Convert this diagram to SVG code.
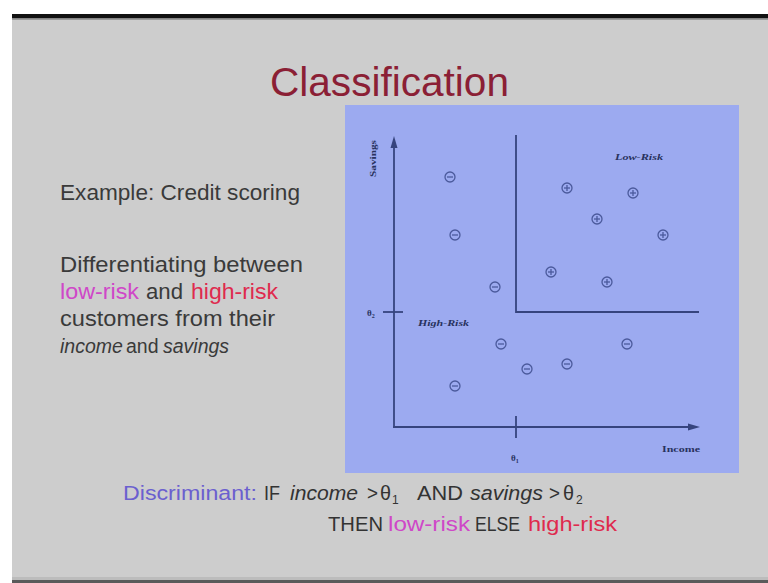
<svg xmlns="http://www.w3.org/2000/svg" width="768" height="583" viewBox="0 0 768 583">
<style>
.sans{font-family:"Liberation Sans","Open Sans",sans-serif}
.serif{font-family:"Liberation Serif","DejaVu Serif",serif}
.body{fill:#3a3a3a;font-size:21.5px}
.bot{fill:#333333;font-size:20px}
.low{fill:#cf47c8}
.high{fill:#df2a4e}
.it{font-style:italic}
.ax{stroke:#36447e;stroke-width:1.8;fill:none}
.pt{stroke:#4b5a9c;stroke-width:1.3;fill:none}
.lab{fill:#28325e;font-size:9px;font-weight:bold}
</style>
<defs>
<g id="minus"><circle r="5" class="pt"/><line x1="-3" y1="0" x2="3" y2="0" class="pt"/></g>
<g id="plus"><circle r="5" class="pt"/><line x1="-3" y1="0" x2="3" y2="0" class="pt"/><line x1="0" y1="-3" x2="0" y2="3" class="pt"/></g>
</defs>
<rect x="0" y="0" width="768" height="583" fill="#ffffff"/>
<g id="slide">
<rect x="12" y="18" width="756" height="562" fill="#cdcdcd"/>
<rect x="12" y="14" width="756" height="4.5" fill="#111111"/>
<rect x="12" y="18.5" width="756" height="1.5" fill="#9a9a9a"/>
<rect x="12" y="577" width="756" height="3" fill="#bcbcbc"/>
<rect x="12" y="580" width="756" height="3" fill="#5a5a5a"/>
</g>
<g id="title">
<text x="270" y="96" class="sans" font-size="40" fill="#8b1f35" textLength="239" lengthAdjust="spacingAndGlyphs">Classification</text>
</g>
<g id="left-text" class="sans body">
<text x="60" y="200" textLength="240" lengthAdjust="spacingAndGlyphs">Example: Credit scoring</text>
<text x="60" y="272" textLength="243" lengthAdjust="spacingAndGlyphs">Differentiating between</text>
<text x="60" y="299" class="low" textLength="79" lengthAdjust="spacingAndGlyphs">low-risk</text>
<text x="146" y="299" textLength="37" lengthAdjust="spacingAndGlyphs">and</text>
<text x="191" y="299" class="high" textLength="87" lengthAdjust="spacingAndGlyphs">high-risk</text>
<text x="60" y="326" textLength="215" lengthAdjust="spacingAndGlyphs">customers from their</text>
<text x="60" y="353" class="it" font-size="19.5">income</text>
<text x="126" y="353" font-size="19.5">and</text>
<text x="163" y="353" class="it" font-size="19.5">savings</text>
</g>
<g id="plot">
<rect x="345" y="105" width="394" height="368" fill="#9caaf0"/>
<g id="connectors">
<line x1="394" y1="427" x2="394" y2="146" class="ax"/>
<polygon points="394,136 390.5,148 397.5,148" fill="#36447e"/>
<line x1="393" y1="427" x2="690" y2="427" class="ax"/>
<polygon points="700,427 688,423.5 688,430.5" fill="#36447e"/>
<polyline points="516,135 516,312 699,312" class="ax"/>
<line x1="516" y1="416" x2="516" y2="438" class="ax"/>
<line x1="383" y1="312" x2="403" y2="312" class="ax"/>
</g>
<g id="labels" class="serif">
<text x="367" y="316" class="lab">θ<tspan font-size="6" dy="2">2</tspan></text>
<text x="511" y="461" class="lab">θ<tspan font-size="6" dy="2">1</tspan></text>
<text transform="translate(376,177) rotate(-90)" class="lab" font-size="9.5" textLength="37" lengthAdjust="spacingAndGlyphs">Savings</text>
<text x="662" y="452" class="lab" font-size="10" textLength="38" lengthAdjust="spacingAndGlyphs">Income</text>
<text x="615" y="160" class="lab it" textLength="48" lengthAdjust="spacingAndGlyphs">Low-Risk</text>
<text x="418" y="326" class="lab it" textLength="51" lengthAdjust="spacingAndGlyphs">High-Risk</text>
</g>
<g id="points">
<use href="#minus" x="450" y="177"/>
<use href="#minus" x="455" y="235"/>
<use href="#minus" x="495" y="287"/>
<use href="#minus" x="501" y="344"/>
<use href="#minus" x="455" y="386"/>
<use href="#minus" x="527" y="369"/>
<use href="#minus" x="567" y="364"/>
<use href="#minus" x="627" y="344"/>
<use href="#plus" x="567" y="188"/>
<use href="#plus" x="633" y="193"/>
<use href="#plus" x="597" y="219"/>
<use href="#plus" x="663" y="235"/>
<use href="#plus" x="551" y="272"/>
<use href="#plus" x="607" y="282"/>
</g>
</g>
<g id="discriminant" class="sans bot">
<text x="123" y="500" fill="#6b5fcf" textLength="134" lengthAdjust="spacingAndGlyphs">Discriminant:</text>
<text x="264" y="500" textLength="16" lengthAdjust="spacingAndGlyphs">IF</text>
<text x="290" y="500" class="it" textLength="68" lengthAdjust="spacingAndGlyphs">income</text>
<text x="367" y="500" textLength="11" lengthAdjust="spacingAndGlyphs">&gt;</text>
<text x="380" y="500" textLength="11" lengthAdjust="spacingAndGlyphs">θ</text>
<text x="392" y="504" font-size="12">1</text>
<text x="417" y="500" textLength="46" lengthAdjust="spacingAndGlyphs">AND</text>
<text x="470" y="500" class="it" textLength="73" lengthAdjust="spacingAndGlyphs">savings</text>
<text x="549" y="500" textLength="11" lengthAdjust="spacingAndGlyphs">&gt;</text>
<text x="563" y="500" textLength="11" lengthAdjust="spacingAndGlyphs">θ</text>
<text x="576" y="504" font-size="12">2</text>
<text x="328" y="531" textLength="55" lengthAdjust="spacingAndGlyphs">THEN</text>
<text x="388" y="531" class="low" textLength="82" lengthAdjust="spacingAndGlyphs">low-risk</text>
<text x="475" y="531" textLength="45" lengthAdjust="spacingAndGlyphs">ELSE</text>
<text x="528" y="531" class="high" textLength="89" lengthAdjust="spacingAndGlyphs">high-risk</text>
</g>
</svg>
